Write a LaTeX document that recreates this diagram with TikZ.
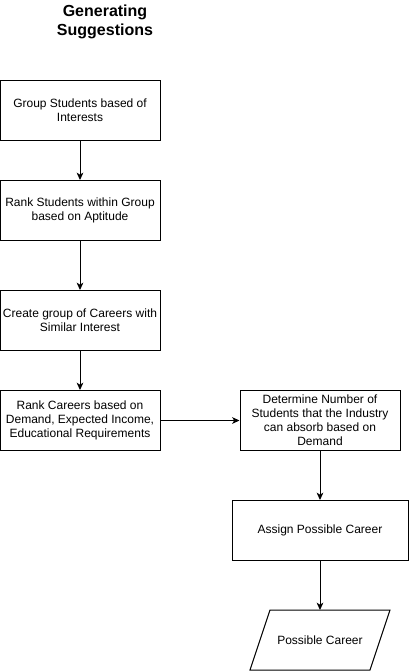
\documentclass[tikz,border=0pt]{standalone}
\usepackage{fontspec}
\setmainfont{Liberation Sans}
\usetikzlibrary{arrows.meta}
\begin{document}
\begin{tikzpicture}[x=0.75pt,y=-0.75pt,
  box/.style={draw,line width=0.75pt,minimum width=120pt,minimum height=45pt,inner sep=0pt,align=center,font=\fontsize{9}{10.5}\selectfont},
  lbl/.style={inner sep=0pt,align=center,font=\fontsize{9}{10.5}\selectfont},
  arr/.style={-{Stealth[length=5.5pt,width=5pt,inset=1.5pt]},line width=0.75pt},
  ttl/.style={font=\bfseries\fontsize{12}{14.25}\selectfont,align=center}]
\useasboundingbox (0,0) rectangle (409,671);
\node[ttl] (title) at (105,22) {Generating\\Suggestions};
\node[box] (b1) at (80,110.5) {Group Students based of\\Interests};
\node[box] (b2) at (80,210.5) {Rank Students within Group\\based on Aptitude};
\node[box] (b3) at (80,320.5) {Create group of Careers with\\Similar Interest};
\node[box] (b4) at (80,420.5) {Rank Careers based on\\Demand, Expected Income,\\Educational Requirements};
\node[box] (b5) at (320,420.5) {Determine Number of\\Students that the Industry\\can absorb based on\\Demand};
\node[box,minimum width=132pt] (b6) at (320,530.5) {Assign Possible Career};
\draw[line width=0.75pt] (270,610) -- (390,610) -- (370,670) -- (250,670) -- cycle;
\node[lbl] (p) at (320,640.5) {Possible Career};
\coordinate (ptop) at (320,610);
\draw[arr] (b1) -- (b2);
\draw[arr] (b2) -- (b3);
\draw[arr] (b3) -- (b4);
\draw[arr] (b4) -- (b5);
\draw[arr] (b5) -- (b6);
\draw[arr] (b6) -- (ptop);
\end{tikzpicture}
\end{document}
